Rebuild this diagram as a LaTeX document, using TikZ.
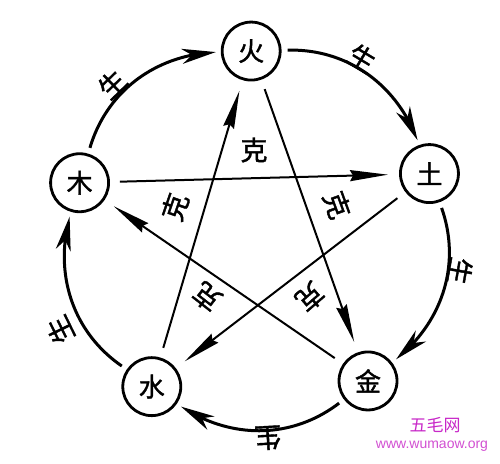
\documentclass[tikz,border=0pt]{standalone}
\usepackage{fontspec}
\setmainfont{Liberation Sans}
\newfontfamily\cjk{Noto Sans CJK SC}[FakeBold=1.5]
\newfontfamily\cjkplain{Noto Sans CJK SC}
\usetikzlibrary{arrows.meta,calc,bending}
\definecolor{wm}{RGB}{200,40,200}
\definecolor{wmlight}{RGB}{210,80,210}
\begin{document}
\begin{tikzpicture}[x=1pt,y=1pt,
  el/.style={circle,draw,line width=2.8pt,minimum size=58pt,inner sep=0pt,font=\cjk\fontsize{26}{26}\selectfont},
  sheng/.style={-{Stealth[length=34pt,width=15pt,inset=10pt]},line width=3pt,shorten <=6pt,shorten >=5pt},
  ke/.style={-{Stealth[length=38pt,width=11pt,inset=3pt]},line width=2pt,shorten <=10pt,shorten >=11pt},
  lab/.style={font=\cjk\fontsize{27}{27}\selectfont,inner sep=0pt},
]
\fill[white] (0,0) rectangle (500,463);
\useasboundingbox (0,0) rectangle (500,463);
\coordinate (c) at (256,228);
\node[el] (huo) at ($(c)+(91.5:184)$) {火};
\node[el] (tu) at ($(c)+(19.5:184)$) {土};
\node[el] (jin) at ($(c)+(-52.5:184)$) {金};
\node[el] (shui) at ($(c)+(-124.5:184)$) {水};
\node[el] (mu) at ($(c)+(163.5:184)$) {木};
% sheng cycle
\draw[sheng] (mu) to[bend left=36] (huo);
\draw[sheng] (huo) to[bend left=36] (tu);
\draw[sheng] (tu) to[bend left=36] (jin);
\draw[sheng] (jin) to[bend left=36] (shui);
\draw[sheng] (shui) to[bend left=36] (mu);
% ke cycle
\draw[ke] (mu) -- (tu);
\draw[ke] (tu) -- (shui);
\draw[ke] (shui) -- (huo);
\draw[ke] (huo) -- (jin);
\draw[ke] (jin) -- (mu);
% sheng labels
\node[lab,rotate=44] (s1) at (112,379) {生};
\node[lab,rotate=-31] (s2) at (362,405) {生};
\node[lab,rotate=-100] (s3) at (460,192) {生};
\node[lab,rotate=-177] (s4) at (268,25) {生};
\node[lab,rotate=116] (s5) at (60,133) {生};
% ke labels
\node[lab] (k1) at (254,313) {克};
\node[lab,rotate=71] (k2) at (175,256) {克};
\node[lab,rotate=-70] (k3) at (337,258) {克};
\node[lab,rotate=142] (k4) at (207,166) {克};
\node[lab,rotate=-139] (k5) at (310,166) {克};
% watermark
\node[font=\cjkplain\fontsize{17}{17}\selectfont,text=wm,inner sep=0pt] (wm1) at (435,38) {五毛网};
\node[font=\fontsize{14}{14}\selectfont,text=wmlight,inner sep=0pt] (wm2) at (432,17) {www.wumaow.org};
\end{tikzpicture}
\end{document}
